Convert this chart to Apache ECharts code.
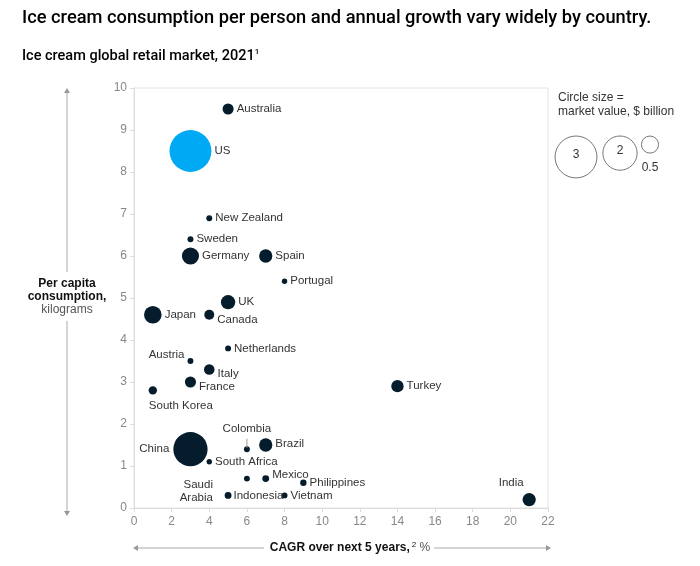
<!DOCTYPE html>
<html>
<head>
<meta charset="utf-8">
<script src="https://cdn.jsdelivr.net/npm/echarts@6/dist/echarts.min.js"></script>
<style>html,body{margin:0;padding:0;background:#fff}#c{width:700px;height:566px}</style>
</head>
<body>
<div id="c"></div>
<script>
// ---- data ----
const countries = ['Australia','US','New Zealand','Sweden','Germany','Spain','Portugal','UK','Japan','Canada','Netherlands','Austria','Italy','France','South Korea','Turkey','China','Colombia','Brazil','South Africa','Saudi Arabia','Indonesia','Mexico','Philippines','Vietnam','India'];
const cagr =        [5,   3,   4,   3,   3,   7,   8,   5,   1,   4,   5,   3,   4,   3,   1,   14,  3,   6,   7,   4,   6,   5,   7,   9,   8,   21];
const perCapita =   [9.5, 8.5, 6.9, 6.4, 6.0, 6.0, 5.4, 4.9, 4.6, 4.6, 3.8, 3.5, 3.3, 3.0, 2.8, 2.9, 1.4, 1.4, 1.5, 1.1, 0.7, 0.3, 0.7, 0.6, 0.3, 0.2];
const marketValue = [0.21,3.0, 0.06,0.06,0.5, 0.3, 0.05,0.35,0.53,0.17,0.06,0.06,0.19,0.21,0.12,0.26,2.0, 0.06,0.3, 0.05,0.06,0.08,0.08,0.07,0.06,0.3];
const legendValues = [3, 2, 0.5];
const xTicks = {min: 0, max: 22, interval: 2};
const yTicks = {min: 0, max: 10, interval: 1};

// ---- styles ----
const NAVY = '#051c2c', BLUE = '#00a9f4';
const K = 12.1; // radius per sqrt($B)
const radius = v => K * Math.sqrt(v);
const FONT = 'Liberation Sans';
const TFONT = 'Roboto';
const labelStyle = {
  'Canada': {offset: [0, 5]},
  'Austria': {position: 'left', offset: [0, -6]},
  'Italy': {offset: [0, 4]},
  'France': {offset: [0, 5]},
  'South Korea': {position: 'bottom', offset: [28, 1], distance: 4},
  'China': {position: 'left', distance: 4},
  'Colombia': {position: 'top', distance: 1, offset: [0, 5], formatter: 'Colombia\n{l|}', rich: {l: {width: 1, height: 9, backgroundColor: '#999', align: 'center'}}, lineHeight: 14},
  'Saudi Arabia': {position: 'left', distance: 31, offset: [0, 13], formatter: 'Saudi\nArabia', lineHeight: 13},
  'Mexico': {offset: [0, -4]},
  'India': {position: 'top', offset: [-18, -1]},
  'Indonesia': {distance: 2},
  'Brazil': {offset: [0, -1]}
};
const highlight = {'US': BLUE};

const data = countries.map((n, i) => {
  const ls = labelStyle[n] || {};
  return {
    name: n,
    value: [cagr[i], perCapita[i], marketValue[i]],
    itemStyle: {color: highlight[n] || NAVY, opacity: 1},
    label: Object.assign({show: true, position: 'right', distance: 3, formatter: '{b}'}, ls)
  };
});

function arrowHead(x, y, dir) {
  const s = 5, w = 3;
  let pts;
  if (dir === 'up') pts = [[x, y], [x - w, y + s], [x + w, y + s]];
  if (dir === 'down') pts = [[x, y], [x - w, y - s], [x + w, y - s]];
  if (dir === 'left') pts = [[x, y], [x + s, y - w], [x + s, y + w]];
  if (dir === 'right') pts = [[x, y], [x - s, y - w], [x - s, y + w]];
  return {type: 'polygon', shape: {points: pts}, style: {fill: '#999'}};
}
const lineEl = (x1, y1, x2, y2) => ({type: 'line', shape: {x1, y1, x2, y2}, style: {stroke: '#aaa', lineWidth: 1}});

const legendTop = 136;
const lgX = [576, 620, 650];
const legendEls = [];
legendValues.forEach((v, i) => {
  const r = radius(v);
  legendEls.push({type: 'circle', shape: {cx: lgX[i], cy: legendTop + r, r: r}, style: {fill: 'none', stroke: '#777', lineWidth: 1}});
  if (i < 2) {
    legendEls.push({type: 'text', x: lgX[i], y: legendTop + r - 2, style: {text: String(v), font: '12px ' + FONT, fill: '#333', align: 'center', verticalAlign: 'middle'}});
  } else {
    legendEls.push({type: 'text', x: lgX[i], y: legendTop + 2 * r + 15, style: {text: String(v), font: '12px ' + FONT, fill: '#333', align: 'center', verticalAlign: 'middle'}});
  }
});

const chart = echarts.init(document.getElementById('c'), null, {renderer: 'canvas'});
chart.setOption({
  animation: false,
  textStyle: {fontFamily: FONT},
  grid: {left: 134, right: 152, top: 88, bottom: 58, show: true, borderColor: '#e2e2e2', borderWidth: 1},
  xAxis: {
    type: 'value', min: xTicks.min, max: xTicks.max, interval: xTicks.interval,
    axisLine: {show: true, lineStyle: {color: '#ddd'}},
    axisTick: {show: true, length: 4, lineStyle: {color: '#ddd'}},
    axisLabel: {color: '#888', fontSize: 12, margin: 8, fontFamily: FONT},
    splitLine: {show: false}
  },
  yAxis: {
    type: 'value', min: yTicks.min, max: yTicks.max, interval: yTicks.interval,
    axisLine: {show: true, lineStyle: {color: '#ddd'}},
    axisTick: {show: true, length: 4, lineStyle: {color: '#ddd'}},
    axisLabel: {color: '#888', fontSize: 12, margin: 7, fontFamily: FONT},
    splitLine: {show: false}
  },
  series: [{
    type: 'scatter',
    symbolSize: v => 2 * radius(v[2]),
    data: data,
    label: {color: '#333', fontSize: 11.5, fontFamily: FONT},
    emphasis: {disabled: true}
  }],
  graphic: [
    {type: 'text', left: 22, top: 9, style: {text: 'Ice cream consumption per person and annual growth vary widely by country.', font: '500 18.3px ' + TFONT, fill: '#000'}},
    {type: 'text', left: 22, top: 48, style: {text: 'Ice cream global retail market, 2021{s|1}', font: '500 14.5px ' + TFONT, fill: '#000', rich: {s: {font: '500 8px ' + TFONT, verticalAlign: 'top', padding: [0, 0, 8, 0]}}}},
    // legend title
    {type: 'text', left: 558, top: 91, style: {text: 'Circle size =\nmarket value, $ billion', font: '12px ' + FONT, fill: '#333', lineHeight: 14}},
    ...legendEls,
    // y axis title + arrows
    lineEl(67, 93, 67, 272),
    lineEl(67, 321, 67, 511),
    arrowHead(67, 88, 'up'),
    arrowHead(67, 516, 'down'),
    {type: 'text', x: 67, y: 297, style: {text: '{b|Per capita}\n{b|consumption,}\n{r|kilograms}', align: 'center', verticalAlign: 'middle', rich: {b: {font: '600 12px ' + FONT, fill: '#111', lineHeight: 13}, r: {font: '12px ' + FONT, fill: '#555', lineHeight: 13}}}},
    // x axis title + arrows
    lineEl(138, 548, 264, 548),
    lineEl(434, 548, 546, 548),
    arrowHead(133, 548, 'left'),
    arrowHead(551, 548, 'right'),
    {type: 'text', x: 350, y: 548, style: {text: '{b|CAGR over next 5 years,}{s|2}{r| %}', align: 'center', verticalAlign: 'middle', rich: {b: {font: '600 12px ' + FONT, fill: '#111'}, s: {font: '8px ' + FONT, fill: '#111', verticalAlign: 'top', padding: [0, 0, 6, 2]}, r: {font: '12px ' + FONT, fill: '#555'}}}}
  ]
});
</script>
</body>
</html>
